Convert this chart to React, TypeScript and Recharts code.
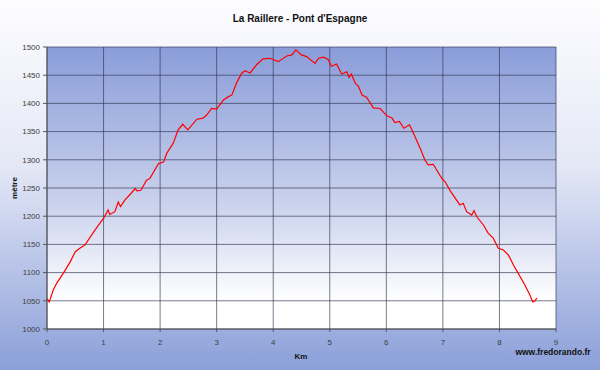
import { LineChart, Line, XAxis, YAxis, CartesianGrid } from "recharts";

// distance (km) along the trail
const distances = [
  0, 0.04, 0.11, 0.17, 0.29, 0.41, 0.5, 0.58, 0.67, 0.79, 0.91, 1.0, 1.08, 1.11,
  1.2, 1.26, 1.3, 1.38, 1.5, 1.56, 1.59, 1.66, 1.76, 1.82, 1.97, 2.06, 2.12,
  2.23, 2.32, 2.4, 2.49, 2.65, 2.76, 2.82, 2.91, 3.0, 3.12, 3.21, 3.27, 3.35,
  3.44, 3.5, 3.59, 3.71, 3.82, 3.94, 4.09, 4.24, 4.33, 4.4, 4.5, 4.59, 4.74,
  4.8, 4.89, 4.97, 5.03, 5.12, 5.21, 5.3, 5.34, 5.38, 5.45, 5.51, 5.57, 5.65,
  5.77, 5.89, 6.01, 6.1, 6.15, 6.23, 6.31, 6.41, 6.48, 6.6, 6.68, 6.74, 6.83,
  6.98, 7.04, 7.13, 7.3, 7.36, 7.42, 7.51, 7.55, 7.6, 7.72, 7.8, 7.89, 7.98,
  8.07, 8.16, 8.25, 8.33, 8.45, 8.54, 8.59, 8.63, 8.66,
];

// altitude (m)
const altitudes = [
  1054, 1048, 1069, 1081, 1099, 1119, 1137, 1143, 1149, 1167, 1184, 1196, 1211,
  1203, 1208, 1225, 1217, 1229, 1242, 1249, 1245, 1246, 1264, 1267, 1293, 1296,
  1312, 1329, 1353, 1363, 1353, 1372, 1374, 1379, 1391, 1390, 1406, 1412, 1415,
  1436, 1453, 1458, 1454, 1469, 1479, 1480, 1474, 1484, 1486, 1495, 1486, 1483,
  1471, 1480, 1482, 1478, 1466, 1470, 1452, 1456, 1446, 1452, 1436, 1430, 1415,
  1411, 1392, 1391, 1378, 1374, 1366, 1368, 1356, 1362, 1347, 1320, 1300, 1291,
  1292, 1267, 1261, 1245, 1220, 1223, 1208, 1202, 1210, 1199, 1184, 1170, 1161,
  1143, 1140, 1131, 1113, 1099, 1078, 1060, 1048, 1050, 1055,
];

const xTicks = [0, 1, 2, 3, 4, 5, 6, 7, 8, 9];
const yTicks = [1000, 1050, 1100, 1150, 1200, 1250, 1300, 1350, 1400, 1450, 1500];

const data = distances.map((d, i) => ({ km: d, alt: altitudes[i] }));

const FONT = '"Liberation Sans", Arial, sans-serif';

export default function App() {
  return (
    <div
      style={{
        position: "absolute",
        left: 0,
        top: 0,
        width: 600,
        height: 370,
        fontFamily: FONT,
        background: "linear-gradient(to bottom, #fdfdff 0%, #e4e8f6 45%, #8b9fd9 100%)",
      }}
    >
      <div
        style={{
          position: "absolute",
          top: 18,
          left: 300,
          transform: "translate(-50%, -50%)",
          whiteSpace: "nowrap",
          fontSize: 10,
          fontWeight: "bold",
          color: "#111",
        }}
      >
        La Raillere - Pont d'Espagne
      </div>
      <LineChart
        width={600}
        height={370}
        data={data}
        margin={{ top: 47, right: 44, bottom: 11, left: 8 }}
        style={{ position: "absolute", left: 0, top: 0 }}
      >
        <defs>
          <linearGradient id="plotBg" x1="0" y1="0" x2="0" y2="1">
            <stop offset="0%" stopColor="#8a9dd9" />
            <stop offset="55%" stopColor="#c9d1ec" />
            <stop offset="90%" stopColor="#ffffff" />
            <stop offset="100%" stopColor="#ffffff" />
          </linearGradient>
        </defs>
        <CartesianGrid
          fill="url(#plotBg)"
          fillOpacity={1}
          stroke="#2f3450"
          strokeOpacity={0.65}
          horizontalValues={yTicks}
          verticalValues={xTicks}
        />
        <XAxis
          dataKey="km"
          type="number"
          domain={[0, 9]}
          ticks={xTicks}
          height={30}
          tickSize={3}
          tickMargin={7}
          stroke="#555"
          tick={{ fontSize: 8, fill: "#404040", fontFamily: FONT }}
        />
        <YAxis
          type="number"
          domain={[1000, 1500]}
          ticks={yTicks}
          width={39}
          tickSize={4}
          tickMargin={3}
          stroke="#555"
          tick={{ fontSize: 8, fill: "#404040", fontFamily: FONT }}
        />
        <Line
          type="linear"
          dataKey="alt"
          stroke="#ff0000"
          strokeWidth={1.2}
          dot={false}
          isAnimationActive={false}
        />
      </LineChart>
      <div
        style={{
          position: "absolute",
          left: 14,
          top: 188,
          transform: "translate(-50%, -50%) rotate(-90deg)",
          fontSize: 8,
          fontWeight: "bold",
          color: "#111",
        }}
      >
        mètre
      </div>
      <div
        style={{
          position: "absolute",
          left: 301,
          top: 356,
          transform: "translate(-50%, -50%)",
          fontSize: 8,
          fontWeight: "bold",
          color: "#111",
        }}
      >
        Km
      </div>
      <div
        style={{
          position: "absolute",
          left: 553,
          top: 352,
          transform: "translate(-50%, -50%)",
          whiteSpace: "nowrap",
          fontSize: 8.5,
          fontWeight: "bold",
          color: "#111",
        }}
      >
        www.fredorando.fr
      </div>
    </div>
  );
}
